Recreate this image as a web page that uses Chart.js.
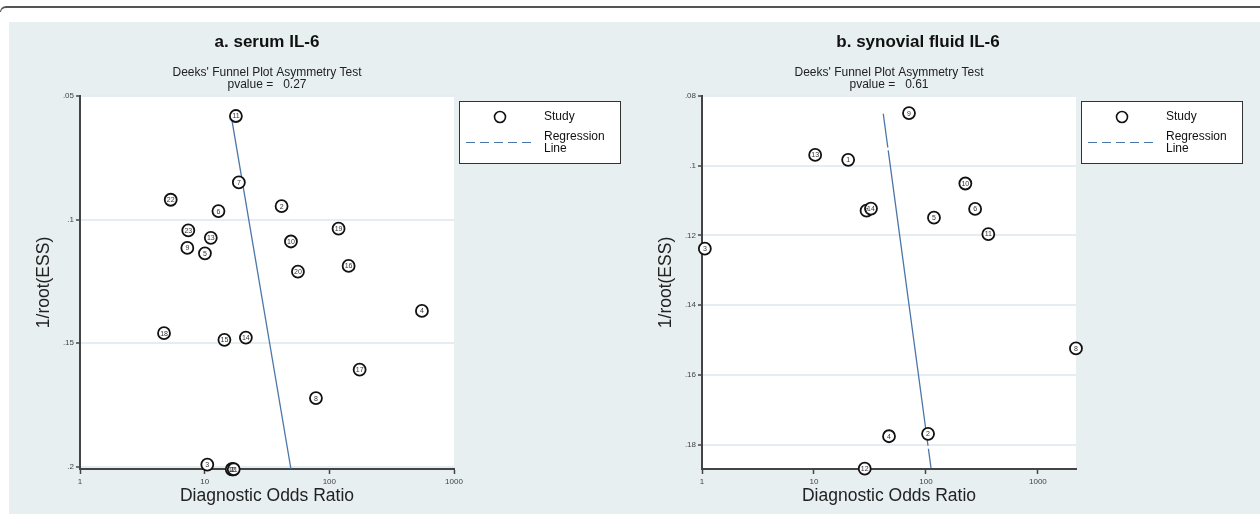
<!DOCTYPE html>
<html lang="en">
  <head>
    <meta charset="UTF-8" />
    <title>Deeks' Funnel Plot - IL-6</title>
    <script src="https://cdn.jsdelivr.net/npm/chart.js"></script>
    <style>
      body { margin: 0; width: 1260px; height: 514px; background: #fff; position: relative; overflow: hidden; font-family: Arial, "Liberation Sans", sans-serif; }
      #frame { position: absolute; left: 0; top: 6px; width: 1270px; height: 4px; border-top: 2px solid #555; border-left: 1px solid #555; border-top-left-radius: 6px; }
      #panel { position: absolute; left: 9px; top: 22px; width: 1251px; height: 492px; background: #e8eff1; }
      canvas { position: absolute; top: 22px; }
      #chart-a { left: 9px; }
      #chart-b { left: 630px; }
    </style>
  </head>
  <body>
    <div id="frame"></div>
    <div id="panel"></div>
    <canvas id="chart-a" width="621" height="492"></canvas>
    <canvas id="chart-b" width="630" height="492"></canvas>

    <script>
      // a. serum IL-6
      const serumStudy = ["1", "2", "3", "4", "5", "6", "7", "8", "9", "10", "11", "12", "13", "14", "15", "16", "17", "18", "19", "20", "21", "22", "23"];
      const serumDOR = [16.8, 41.4, 10.5, 553, 10.05, 12.9, 18.8, 78.1, 7.26, 49.2, 17.8, 16.5, 11.2, 21.4, 14.4, 142.8, 175, 4.72, 118.6, 56, 17.1, 5.34, 7.39];
      const serumESS = [0.2011, 0.0946, 0.1992, 0.137, 0.1137, 0.0966, 0.085, 0.1723, 0.1115, 0.1089, 0.0581, 0.2011, 0.1074, 0.1478, 0.1487, 0.1188, 0.1608, 0.146, 0.1037, 0.1211, 0.2011, 0.092, 0.1044];
      const serumLineDOR = [16.25, 49.2];
      const serumLineESS = [0.0574, 0.201];
      const serumYTicks = [0.05, 0.1, 0.15, 0.2];

      // b. synovial fluid IL-6
      const fluidStudy = ["1", "2", "3", "4", "5", "6", "7", "8", "9", "10", "11", "12", "13", "14"];
      const fluidDOR = [20.2, 104.5, 1.06, 46.8, 118, 275, 29.5, 2188, 70.6, 225, 361, 28.4, 10.25, 32.3];
      const fluidESS = [0.0983, 0.1769, 0.1238, 0.1776, 0.1149, 0.1124, 0.1129, 0.1524, 0.0849, 0.1051, 0.1196, 0.1869, 0.0969, 0.1123];
      const fluidLineDOR = [41.6, 111];
      const fluidLineESS = [0.0851, 0.1867];
      const fluidYTicks = [0.08, 0.1, 0.12, 0.14, 0.16, 0.18];

      const xTicks = [1, 10, 100, 1000];

      const FONT = "Arial, 'Liberation Sans', sans-serif";
      const LINE_BLUE = "#4a76a8";

      function fmtY(v) {
        return v.toFixed(2).replace(/0+$/, "").replace(/^0/, "");
      }

      // white plot area, titles, legend, study numbers
      const decorPlugin = {
        id: "decor",
        beforeDraw(chart) {
          const a = chart.chartArea;
          const ctx = chart.ctx;
          ctx.save();
          ctx.fillStyle = "#fff";
          ctx.fillRect(a.left, a.top, a.right - a.left, a.bottom - a.top);
          ctx.restore();
        },
        afterDatasetsDraw(chart) {
          const ctx = chart.ctx;
          const meta = chart.getDatasetMeta(0);
          const labels = chart.data.datasets[0].studyLabels;
          ctx.save();
          ctx.fillStyle = "#333";
          ctx.font = "7px " + FONT;
          ctx.textAlign = "center";
          ctx.textBaseline = "middle";
          meta.data.forEach((pt, i) => {
            ctx.fillText(labels[i], pt.x, pt.y + 0.5);
          });
          ctx.restore();
        },
        afterDraw(chart) {
          const opts = chart.options.plugins.decor;
          const a = chart.chartArea;
          const ctx = chart.ctx;
          const cx = (a.left + a.right) / 2;
          ctx.save();
          ctx.fillStyle = "#111";
          ctx.textAlign = "center";
          ctx.textBaseline = "middle";

          ctx.font = "bold 17px " + FONT;
          ctx.fillText(opts.title, opts.titleX, 20);

          ctx.font = "12px " + FONT;
          ctx.fillStyle = "#222";
          ctx.fillText("Deeks' Funnel Plot Asymmetry Test", cx, 51);
          ctx.fillText("pvalue =   " + opts.pvalue, cx, 63);

          ctx.font = "17.5px " + FONT;
          ctx.fillText("Diagnostic Odds Ratio", cx, 474);

          ctx.save();
          ctx.translate(a.left - 36, (a.top + a.bottom) / 2);
          ctx.rotate(-Math.PI / 2);
          ctx.fillText("1/root(ESS)", 0, 0);
          ctx.restore();

          // legend
          const L = a.right + 5;
          ctx.fillStyle = "#fff";
          ctx.fillRect(L, 79, 162, 62);
          ctx.strokeStyle = "#333";
          ctx.lineWidth = 1;
          ctx.strokeRect(L + 0.5, 79.5, 161, 62);

          ctx.beginPath();
          ctx.arc(L + 41, 95, 5.5, 0, Math.PI * 2);
          ctx.lineWidth = 1.6;
          ctx.strokeStyle = "#111";
          ctx.stroke();

          ctx.beginPath();
          ctx.setLineDash([9, 5]);
          ctx.moveTo(L + 7, 120.5);
          ctx.lineTo(L + 76, 120.5);
          ctx.lineWidth = 1.2;
          ctx.strokeStyle = LINE_BLUE;
          ctx.stroke();
          ctx.setLineDash([]);

          ctx.fillStyle = "#111";
          ctx.font = "12px " + FONT;
          ctx.textAlign = "left";
          ctx.fillText("Study", L + 85, 95);
          ctx.fillText("Regression", L + 85, 115);
          ctx.fillText("Line", L + 85, 127);
          ctx.restore();
        },
      };

      function makeChart(id, p) {
        const ctx = document.getElementById(id).getContext("2d");
        return new Chart(ctx, {
          type: "scatter",
          data: {
            datasets: [
              {
                label: "Study",
                studyLabels: p.study,
                data: p.dor.map((x, i) => ({ x: x, y: p.ess[i] })),
                pointStyle: "circle",
                pointRadius: 6,
                pointBorderWidth: 1.8,
                pointBorderColor: "#111",
                pointBackgroundColor: "#fff",
                clip: false,
              },
              {
                label: "Regression Line",
                data: p.lineDor.map((x, i) => ({ x: x, y: p.lineEss[i] })),
                showLine: true,
                pointRadius: 0,
                borderColor: LINE_BLUE,
                borderWidth: 1.3,
                borderDash: p.dash,
                clip: false,
              },
            ],
          },
          options: {
            responsive: false,
            animation: false,
            layout: { padding: { left: 0, top: 74, right: p.padRight, bottom: 0 } },
            plugins: {
              legend: { display: false },
              tooltip: { enabled: false },
              decor: { title: p.title, titleX: p.titleX, pvalue: p.pvalue },
            },
            scales: {
              x: {
                type: "logarithmic",
                min: 1,
                max: p.xMax,
                afterBuildTicks: (s) => { s.ticks = xTicks.map((v) => ({ value: v })); },
                afterFit: (s) => { s.height = 45; },
                ticks: {
                  callback: (v) => String(v),
                  font: { size: 8, family: FONT },
                  color: "#444",
                  padding: 3,
                  autoSkip: false,
                  maxRotation: 0,
                },
                grid: { drawOnChartArea: false, tickLength: 5, tickColor: "#444", tickWidth: 1.5 },
                border: { color: "#444", width: 2 },
              },
              y: {
                reverse: true,
                min: p.yMin,
                max: p.yMax,
                afterBuildTicks: (s) => { s.ticks = p.yTicks.map((v) => ({ value: v })); },
                afterFit: (s) => { s.width = p.yWidth; },
                ticks: {
                  callback: (v) => fmtY(v),
                  font: { size: 8, family: FONT },
                  color: "#444",
                  padding: 2,
                  autoSkip: false,
                },
                grid: { color: "#e3edf2", lineWidth: 2, tickLength: 4, tickColor: "#444", tickWidth: 1.5 },
                border: { color: "#444", width: 2 },
              },
            },
          },
          plugins: [decorPlugin],
        });
      }

      makeChart("chart-a", {
        title: "a. serum IL-6",
        titleX: 258,
        pvalue: "0.27",
        study: serumStudy,
        dor: serumDOR,
        ess: serumESS,
        lineDor: serumLineDOR,
        lineEss: serumLineESS,
        dash: [],
        xMax: 1000,
        yMin: 0.05,
        yMax: 0.201,
        yTicks: serumYTicks,
        yWidth: 71,
        padRight: 176,
      });

      makeChart("chart-b", {
        title: "b. synovial fluid IL-6",
        titleX: 288,
        pvalue: "0.61",
        study: fluidStudy,
        dor: fluidDOR,
        ess: fluidESS,
        lineDor: fluidLineDOR,
        lineEss: fluidLineESS,
        dash: [34, 3, 298, 3],
        xMax: 2190,
        yMin: 0.08,
        yMax: 0.187,
        yTicks: fluidYTicks,
        yWidth: 72,
        padRight: 184,
      });
    </script>
  </body>
</html>
